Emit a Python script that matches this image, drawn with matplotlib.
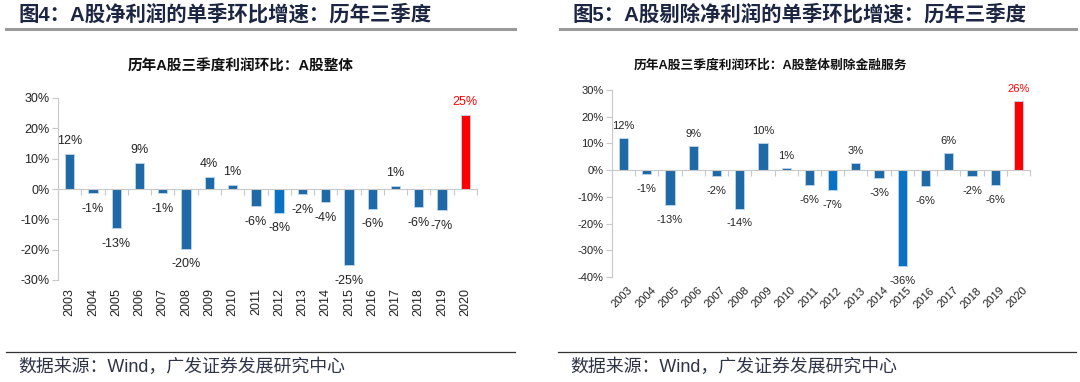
import numpy as np
import matplotlib.pyplot as plt
from matplotlib.lines import Line2D

plt.rcParams['font.family'] = ['Liberation Sans', 'Noto Sans CJK SC', 'DejaVu Sans']

years = [str(y) for y in range(2003, 2021)]
# 图4：A股整体
v_all = [11.6, -1.3, -13.0, 8.7, -1.3, -19.7, 4.0, 1.3, -5.7, -7.8, -1.7, -4.3, -25.0, -6.5, 1.0, -6.0, -7.0, 24.5]
lab_all = ['12%', '-1%', '-13%', '9%', '-1%', '-20%', '4%', '1%', '-6%', '-8%', '-2%', '-4%', '-25%', '-6%', '1%', '-6%', '-7%', '25%']
# 图5：剔除金融服务
v_ex = [12.2, -1.4, -13.2, 9.1, -2.2, -14.4, 10.0, 0.8, -5.7, -7.4, 2.6, -2.9, -36.0, -6.1, 6.5, -2.3, -5.7, 26.0]
lab_ex = ['12%', '-1%', '-13%', '9%', '-2%', '-14%', '10%', '1%', '-6%', '-7%', '3%', '-3%', '-36%', '-6%', '6%', '-2%', '-6%', '26%']

BLUE = '#1f69a6'
BRIGHT = '#0a72c2'
RED = '#ff0000'
W, H = 1080, 382

fig = plt.figure(figsize=(10.8, 3.82), dpi=100)


def px_axes(x0, y_top, x1, y_bot):
    return fig.add_axes([x0 / W, 1 - y_bot / H, (x1 - x0) / W, (y_bot - y_top) / H])


def draw(ax, vals, labs, bright, ylo, yhi, fs, rot):
    colors = [BLUE] * len(vals)
    for i in bright:
        colors[i] = BRIGHT
    colors[-1] = RED
    x = np.arange(len(vals))
    ax.bar(x, vals, width=0.4, color=colors, edgecolor='#bcd7ee', linewidth=0.6, zorder=3)
    ax.set_xlim(-0.5, len(vals) - 0.5)
    ax.set_ylim(ylo, yhi)
    ax.set_yticks(np.arange(ylo, yhi + 1, 10))
    ax.set_yticklabels([f'{t}%' for t in range(ylo, yhi + 1, 10)], fontsize=fs, color='#222222')
    for s in ['top', 'right']:
        ax.spines[s].set_visible(False)
    ax.spines['left'].set_color('#c8c8c8')
    ax.spines['bottom'].set_color('#c8c8c8')
    ax.spines['bottom'].set_position(('data', 0))
    ax.spines['bottom'].set_zorder(4)
    ax.set_xticks(np.arange(-0.5, len(vals), 1))
    ax.set_xticklabels([])
    ax.tick_params(axis='x', length=4, color='#c8c8c8', width=0.8)
    ax.tick_params(axis='y', length=4, color='#c8c8c8', width=0.8, pad=2)
    for i, (v, l) in enumerate(zip(vals, labs)):
        c = RED if i == len(vals) - 1 else '#222222'
        if v >= 0:
            ax.annotate(l, (i, v), xytext=(0, 5), textcoords='offset points',
                        ha='center', va='bottom', fontsize=fs, color=c)
        else:
            ax.annotate(l, (i, v), xytext=(0, -7), textcoords='offset points',
                        ha='center', va='top', fontsize=fs, color=c)
    for i, y in enumerate(years):
        if rot == 90:
            ax.annotate(y, (i, ylo), xytext=(0, -6), textcoords='offset points',
                        ha='center', va='top', rotation=90, fontsize=fs, color='#222222')
        else:
            ax.annotate(y, (i, ylo), xytext=(3, -6), textcoords='offset points',
                        ha='right', va='top', rotation=45, rotation_mode='anchor',
                        fontsize=fs, color='#222222')


ax1 = px_axes(58, 98, 477, 280)
draw(ax1, v_all, lab_all, [9], -30, 30, 9, 90)
ax2 = px_axes(612, 90, 1030, 277)
draw(ax2, v_ex, lab_ex, [9, 12], -40, 30, 8, 45)

title_c = '#1c2541'
fig.text(18 / W, 1 - 14 / H, '图4：A股净利润的单季环比增速：历年三季度', fontsize=14.7,
         fontweight='bold', color=title_c, va='center', ha='left')
fig.text(573 / W, 1 - 14 / H, '图5：A股剔除净利润的单季环比增速：历年三季度', fontsize=14.7,
         fontweight='bold', color=title_c, va='center', ha='left')
fig.text(241 / W, 1 - 67 / H, '历年A股三季度利润环比：A股整体', fontsize=10.5,
         fontweight='bold', color='#111111', va='center', ha='center')
fig.text(770 / W, 1 - 65 / H, '历年A股三季度利润环比：A股整体剔除金融服务', fontsize=9.2,
         fontweight='bold', color='#111111', va='center', ha='center')

fig.add_artist(Line2D([6 / W, 515 / W], [1 - 29 / H] * 2, color='#9a9a9a', lw=2.2))
fig.add_artist(Line2D([560 / W, 1076 / W], [1 - 29 / H] * 2, color='#9a9a9a', lw=2.2))
fig.add_artist(Line2D([6 / W, 515 / W], [1 - 352 / H] * 2, color='#333333', lw=0.9))
fig.add_artist(Line2D([558 / W, 1076 / W], [1 - 352 / H] * 2, color='#333333', lw=0.9))

src = '数据来源：Wind，广发证券发展研究中心'
fig.text(18 / W, 1 - 367 / H, src, fontsize=12.9, color='#2e3446', va='center', ha='left')
fig.text(570 / W, 1 - 367 / H, src, fontsize=12.9, color='#2e3446', va='center', ha='left')

fig.savefig('out.png', dpi=100)
